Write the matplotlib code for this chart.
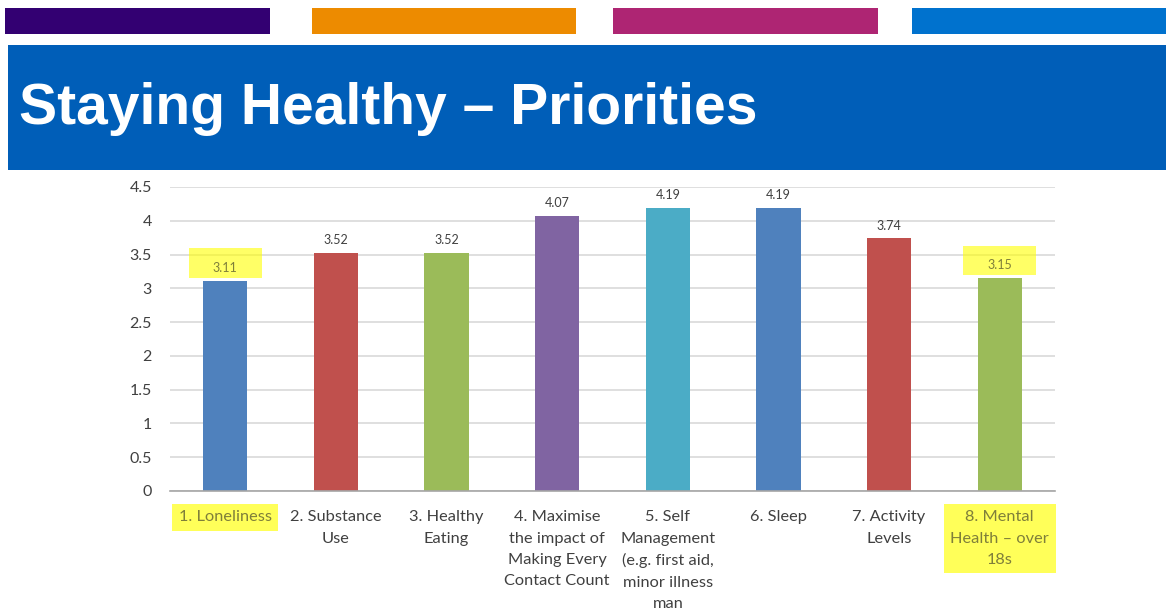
import matplotlib
matplotlib.use("Agg")
import matplotlib.pyplot as plt
from matplotlib.patches import Rectangle

categories = [
    "1. Loneliness",
    "2. Substance\nUse",
    "3. Healthy\nEating",
    "4. Maximise\nthe impact of\nMaking Every\nContact Count",
    "5. Self\nManagement\n(e.g. first aid,\nminor illness\nman",
    "6. Sleep",
    "7. Activity\nLevels",
    "8. Mental\nHealth \u2013 over\n18s",
]
values = [3.11, 3.52, 3.52, 4.07, 4.19, 4.19, 3.74, 3.15]
bar_colors = ["#4F81BD", "#C0504D", "#9BBB59", "#8064A2", "#4BACC6",
              "#4F81BD", "#C0504D", "#9BBB59"]
highlighted = [0, 7]
yticks = [0, 0.5, 1, 1.5, 2, 2.5, 3, 3.5, 4, 4.5]
ytick_labels = ["0", "0.5", "1", "1.5", "2", "2.5", "3", "3.5", "4", "4.5"]
title = "Staying Healthy \u2013 Priorities"

W, H = 1166, 614
fig = plt.figure(figsize=(W / 100, H / 100), dpi=100)
fig.patch.set_facecolor("white")

def px_rect(x0, y0, x1, y1, color):
    fig.patches.append(Rectangle((x0 / W, 1 - y1 / H), (x1 - x0) / W, (y1 - y0) / H,
                                 transform=fig.transFigure, facecolor=color,
                                 edgecolor="none", zorder=0))

# top colour strips
px_rect(5, 8, 270, 34, "#330072")
px_rect(312, 8, 576, 34, "#ED8B00")
px_rect(613, 8, 878, 34, "#AE2573")
px_rect(912, 8, 1166, 34, "#0072CE")
# title banner
px_rect(8, 45, 1166, 170, "#005EB8")
fig.text(19 / W, 1 - 124 / H, title, color="white", fontsize=41,
         fontweight="bold", family="Liberation Sans", ha="left", va="baseline")

ax = fig.add_axes([170 / W, 1 - 491 / H, (1055 - 170) / W, (491 - 187) / H])
x = list(range(len(categories)))
ax.bar(x, values, width=0.4, color=bar_colors, zorder=3)
ax.set_xlim(-0.5, len(categories) - 0.5)
ax.set_ylim(0, 4.5)
ax.set_yticks(yticks)
ax.set_yticklabels(ytick_labels)
ax.set_xticks(x)
ax.set_xticklabels(categories)
for s in ["top", "right", "left"]:
    ax.spines[s].set_visible(False)
ax.spines["bottom"].set_color("#A6A6A6")
ax.spines["bottom"].set_linewidth(1.2)
ax.spines["bottom"].set_zorder(4)
ax.grid(axis="y", color="#D9D9D9", linewidth=1.2, zorder=0)
ax.tick_params(axis="both", length=0, labelcolor="#404040")
ax.tick_params(axis="y", pad=13, labelsize=11.5)
ax.tick_params(axis="x", pad=14, labelsize=11.8)
for lab in ax.get_yticklabels():
    lab.set_family("Lato")
for i, lab in enumerate(ax.get_xticklabels()):
    lab.set_family("Lato")
    lab.set_linespacing(1.65)
    if i in highlighted:
        lab.set_color("#7F7F3A")
        lab.set_bbox(dict(facecolor="#FFFF00", alpha=0.65, edgecolor="none",
                          boxstyle="square,pad=0.4"))

for i, v in enumerate(values):
    hl = i in highlighted
    ax.text(i, v + 0.1, f"{v:.2f}", ha="center", va="bottom", fontsize=9,
            family="Lato", color="#7F7F3A" if hl else "#404040", zorder=5)
    if hl:
        ax.add_patch(Rectangle((i - 0.33, v + 0.05), 0.66, 0.43,
                               facecolor="#FFFF00", alpha=0.6, edgecolor="none",
                               zorder=4, clip_on=False))

fig.savefig("out.png", dpi=100)
